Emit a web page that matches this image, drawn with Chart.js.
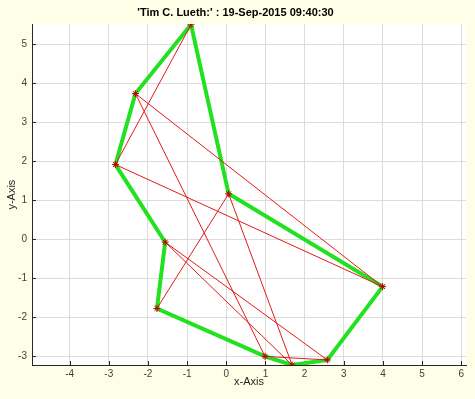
<!DOCTYPE html>
<html>
<head>
<meta charset="utf-8">
<script src="https://cdn.jsdelivr.net/npm/chart.js@4/dist/chart.umd.min.js"></script>
<style>
  body { margin: 0; background: #ffffe8; }
  canvas { display: block; }
</style>
</head>
<body>
<canvas id="myChart" width="475" height="399"></canvas>
<script>
// point coordinates
const pointX = [-0.90, -2.32, -2.83, 0.06, 3.99, -1.56, -1.77, 0.99, 1.68, 2.58];
const pointY = [5.50, 3.73, 1.91, 1.16, -1.22, -0.08, -1.78, -3.01, -3.23, -3.10];

// green = closed tour, red = original visiting order
const tourOrder = [0, 1, 2, 5, 6, 7, 8, 9, 4, 3, 0];
const pathOrder = [0, 2, 4, 1, 7, 9, 5, 8, 3, 6];

const xTicks = [-4, -3, -2, -1, 0, 1, 2, 3, 4, 5, 6];
const yTicks = [-3, -2, -1, 0, 1, 2, 3, 4, 5];

const toPts = order => order.map(i => ({ x: pointX[i], y: pointY[i] }));

// MATLAB style ticks pointing into the axes
const innerTicks = {
  id: 'innerTicks',
  beforeDatasetsDraw(chart) {
    const ctx = chart.ctx;
    const xs = chart.scales.x, ys = chart.scales.y;
    const area = chart.chartArea;
    ctx.save();
    ctx.strokeStyle = '#262626';
    ctx.lineWidth = 1;
    ctx.beginPath();
    xTicks.forEach(v => {
      const px = Math.round(xs.getPixelForValue(v)) + 0.5;
      ctx.moveTo(px, area.bottom);
      ctx.lineTo(px, area.bottom - 4);
    });
    yTicks.forEach(v => {
      const py = Math.round(ys.getPixelForValue(v)) + 0.5;
      ctx.moveTo(area.left, py);
      ctx.lineTo(area.left + 4, py);
    });
    ctx.stroke();
    ctx.restore();
  }
};

const plotBg = {
  id: 'plotBg',
  beforeDraw(chart) {
    const ctx = chart.ctx, a = chart.chartArea;
    ctx.save();
    ctx.fillStyle = '#ffffe8';
    ctx.fillRect(0, 0, chart.width, chart.height);
    ctx.fillStyle = '#ffffff';
    ctx.fillRect(a.left, a.top, a.right - a.left, a.bottom - a.top);
    ctx.restore();
  }
};

new Chart(document.getElementById('myChart').getContext('2d'), {
  type: 'scatter',
  data: {
    datasets: [
      {
        label: 'path',
        data: toPts(pathOrder),
        showLine: true,
        borderColor: '#e41a1a',
        borderWidth: 1,
        pointStyle: 'star',
        pointRadius: 3.5,
        pointBorderColor: '#c00000',
        pointBorderWidth: 1,
        order: 0
      },
      {
        label: 'tour',
        data: toPts(tourOrder),
        showLine: true,
        borderColor: '#22e11f',
        borderWidth: 4,
        pointRadius: 0,
        order: 1
      }
    ]
  },
  options: {
    responsive: false,
    animation: false,
    layout: { padding: { top: 0, right: 9, bottom: 10, left: 5 } },
    plugins: {
      legend: { display: false },
      tooltip: { enabled: false },
      title: {
        display: true,
        text: "'Tim C. Lueth:' : 19-Sep-2015 09:40:30",
        color: '#000',
        font: { family: 'Liberation Sans, Arial', size: 11, weight: 'bold' },
        padding: { top: 6, bottom: 5 }
      }
    },
    scales: {
      x: {
        type: 'linear',
        min: -4.96,
        max: 6.12,
        afterFit(scale) { scale.height = 24; },
        afterBuildTicks(scale) { scale.ticks = xTicks.map(v => ({ value: v })); },
        ticks: {
          color: '#404040',
          padding: 3,
          font: { family: 'Liberation Sans, Arial', size: 10 }
        },
        grid: { color: '#dcdcdc', drawTicks: false },
        border: { color: '#262626', width: 1 },
        title: {
          display: true,
          text: 'x-Axis',
          color: '#262626',
          padding: 0,
          font: { family: 'Liberation Sans, Arial', size: 11 }
        }
      },
      y: {
        type: 'linear',
        min: -3.23,
        max: 5.51,
        afterFit(scale) { scale.width = 27; },
        afterBuildTicks(scale) { scale.ticks = yTicks.map(v => ({ value: v })); },
        ticks: {
          color: '#404040',
          padding: 5,
          font: { family: 'Liberation Sans, Arial', size: 10 }
        },
        grid: { color: '#dcdcdc', drawTicks: false },
        border: { color: '#262626', width: 1 },
        title: {
          display: true,
          text: 'y-Axis',
          color: '#262626',
          padding: 0,
          font: { family: 'Liberation Sans, Arial', size: 11 }
        }
      }
    }
  },
  plugins: [plotBg, innerTicks]
});
</script>
</body>
</html>
